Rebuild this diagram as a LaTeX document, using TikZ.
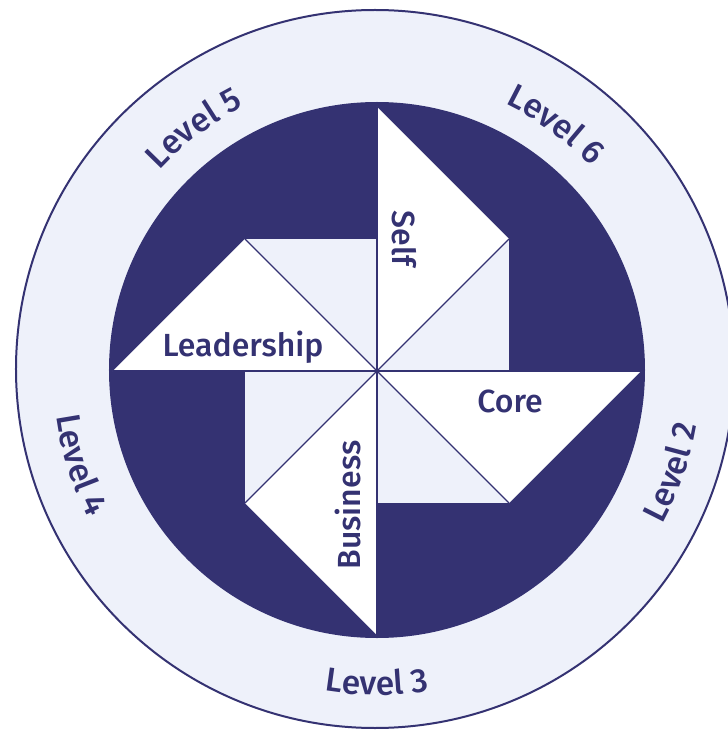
\documentclass[tikz,border=0pt]{standalone}
\usepackage{fontspec}
\setmainfont{Fira Sans}[UprightFont={* Medium}]
\usetikzlibrary{decorations.text}
\definecolor{navy}{HTML}{343272}
\definecolor{mist}{HTML}{EEF1FA}
\newcommand{\lblfont}{\fontsize{32}{36}\selectfont}
\newcommand{\ringfont}{\fontsize{33.5}{38}\selectfont}
\begin{document}
\begin{tikzpicture}[x=1pt,y=1pt,
  blade/.style={fill=white},
  seam/.style={draw=navy, line width=1.1pt},
  tag/.style={text=navy, font=\lblfont, inner sep=0pt},
  ringtext/.style={decorate, decoration={text along path, text align=center,
      text color=navy, text format delimiters={|}{|}, text={|\ringfont|#1}}}
]
\useasboundingbox (-377,-360) rectangle (351,371);

% outer ring and dark disc
\filldraw[fill=mist, draw=navy, line width=2pt] (-2,2) circle[radius=359];
\fill[navy] (0,1) circle[radius=268];

% pinwheel points
\coordinate (O) at (0,0);
\coordinate (T) at (0,264);
\coordinate (R) at (264,0);
\coordinate (B) at (0,-264);
\coordinate (L) at (-264,0);
\coordinate (NE) at (132,132);
\coordinate (SE) at (132,-132);
\coordinate (SW) at (-132,-132);
\coordinate (NW) at (-132,132);

% light square behind the blades
\fill[mist] (SW) rectangle (NE);

% white blades
\fill[blade] (O) -- (T) -- (NE) -- cycle;
\fill[blade] (O) -- (R) -- (SE) -- cycle;
\fill[blade] (O) -- (B) -- (SW) -- cycle;
\fill[blade] (O) -- (L) -- (NW) -- cycle;

% seams through the centre
\draw[seam] (L) -- (R);
\draw[seam] (T) -- (B);
\draw[seam] (NW) -- (SE);
\draw[seam] (NE) -- (SW);

% blade labels
\node[tag, anchor=base] (lead) at (-134,15) {Leadership};
\node[tag, anchor=base] (core) at (133,-41) {Core};
\node[tag, anchor=base, rotate=-90] (self) at (16,132) {Self};
\node[tag, anchor=base, rotate=90] (bus) at (-16,-134) {Business};

% ring labels
\path[ringtext={Level 5}] (157:296) arc[start angle=157, end angle=97, radius=296];
\path[ringtext={Level 6}] (84:296) arc[start angle=84, end angle=24, radius=296];
\path[ringtext={Level 2}] (-49:324) arc[start angle=-49, end angle=11, radius=324];
\path[ringtext={Level 3}] (-120:324) arc[start angle=-120, end angle=-60, radius=324];
\path[ringtext={Level 4}] (-192.5:324) arc[start angle=-192.5, end angle=-132.5, radius=324];
\end{tikzpicture}
\end{document}
